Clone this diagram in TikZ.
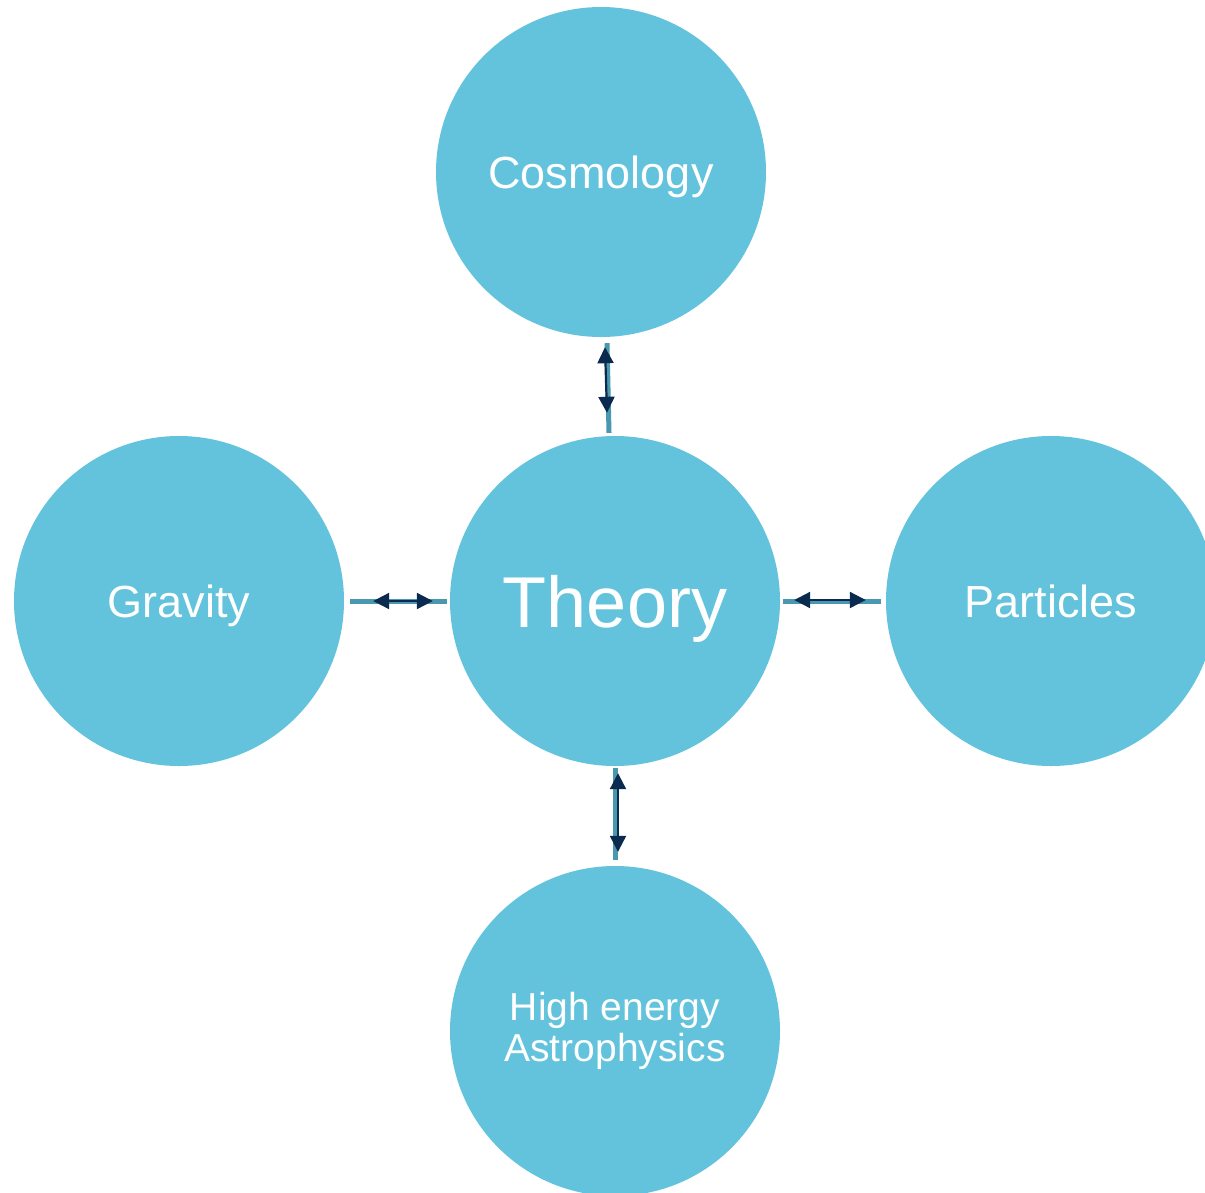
\documentclass[tikz,border=0pt]{standalone}
\usepackage{fontspec}
\setmainfont{Liberation Sans}
\usetikzlibrary{arrows.meta,calc}
\definecolor{bubble}{HTML}{63C3DC}
\definecolor{linkteal}{HTML}{4A98AE}
\definecolor{navy}{HTML}{0A2A4F}
\begin{document}
\begin{tikzpicture}[x=1pt,y=-1pt,
  topic/.style={circle,fill=bubble,minimum size=330pt,inner sep=0pt,text=white,align=center,font=\fontsize{45}{50}\selectfont},
  tealline/.style={draw=linkteal,line width=5pt},
  navyline/.style={draw=navy,line width=2.2pt,{Triangle[length=16pt,width=16pt]}-{Triangle[length=16pt,width=16pt]}}]
\useasboundingbox (0,0) rectangle (1205,1192);
\node[topic,text depth=0pt] (th) at (615,601) {\fontsize{72}{80}\selectfont Theory};
\node[topic,text depth=0pt] (cos) at (601,172) {Cosmology};
\node[topic,text depth=0pt] (gra) at (179,601) {Gravity};
\node[topic] (par) at (1051,601) {Particles};
\node[topic,font=\fontsize{39}{41}\selectfont] (hea) at (615,1031) {High energy\\Astrophysics};
% top
\draw[tealline] ($(cos.south)+(6,6)$) -- ($(th.north)+(-6,-3)$);
\draw[navyline] ($(cos.south)+(4,10)$) -- ($(th.north)+(-8,-23)$);
% left
\draw[tealline] ($(gra.east)+(6,0)$) -- ($(th.west)+(-3,0)$);
\draw[navyline] ($(gra.east)+(29,0)$) -- ($(th.west)+(-17,0)$);
% right
\draw[tealline] ($(th.east)+(3,0)$) -- ($(par.west)+(-5,0)$);
\draw[navyline] ($(th.east)+(14,-1)$) -- ($(par.west)+(-20,-1)$);
% bottom
\draw[tealline] ($(th.south)+(0,2)$) -- ($(hea.north)+(0,-6)$);
\draw[navyline] ($(th.south)+(3,7)$) -- ($(hea.north)+(3,-14)$);
\end{tikzpicture}
\end{document}
